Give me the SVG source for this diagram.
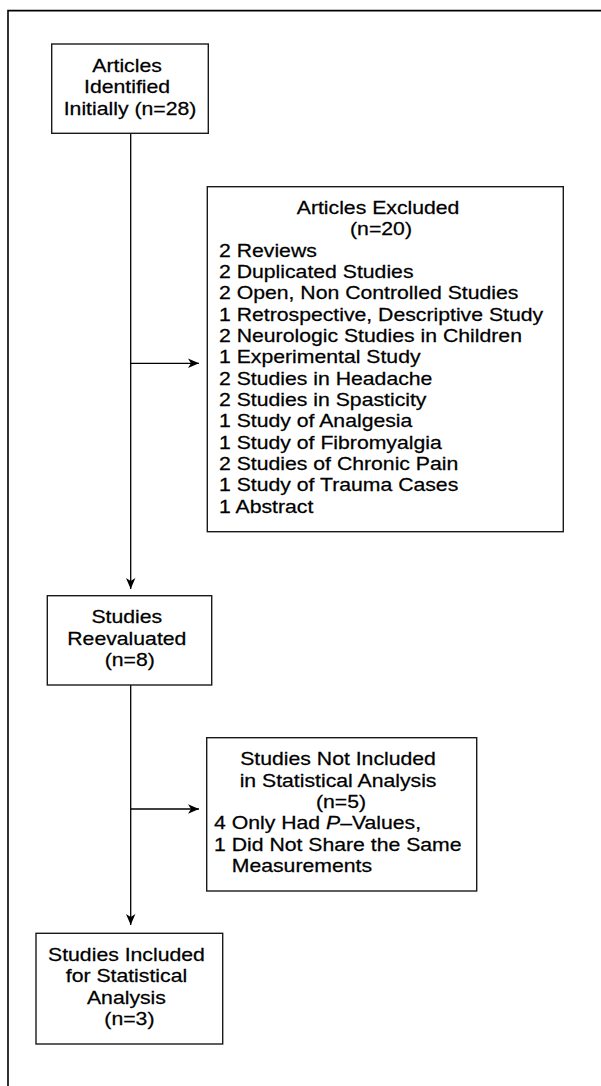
<svg xmlns="http://www.w3.org/2000/svg" width="601" height="1086" viewBox="0 0 601 1086">
  <defs>
    <marker id="arr" markerUnits="userSpaceOnUse" markerWidth="14" markerHeight="12" viewBox="-12 -6 14 12" refX="0" refY="0" orient="auto">
      <path d="M0,0 L-11,-4.7 L-8,0 L-11,4.7 Z" fill="#000"/>
    </marker>
    <style>
      .box { fill: #fff; stroke: #1a1a1a; stroke-width: 1.4; }
      .con { fill: none; stroke: #000; stroke-width: 1.3; }
      .frame { fill: none; stroke: #000; stroke-width: 1.6; }
      text { font-family: "Liberation Sans", Arial, Helvetica, sans-serif; font-size: 18.3px; fill: #000; stroke: #000; stroke-width: 0.25; }
      .c { text-anchor: middle; }
    </style>
  </defs>
  <rect x="0" y="0" width="601" height="1086" fill="#fff"/>
  <path class="frame" d="M8,1086 V10.6 H601"/>

  <g id="connectors">
    <line class="con" x1="130.7" y1="133.3" x2="130.7" y2="589" marker-end="url(#arr)"/>
    <line class="con" x1="130.7" y1="363.3" x2="199" y2="363.3" marker-end="url(#arr)"/>
    <line class="con" x1="130.7" y1="685" x2="130.7" y2="925" marker-end="url(#arr)"/>
    <line class="con" x1="130.7" y1="809" x2="199" y2="809" marker-end="url(#arr)"/>
  </g>

  <g id="node-identified">
    <rect class="box" x="51.7" y="44" width="156.6" height="89.3"/>
    <text class="c" transform="translate(130 0) scale(1.16 1)">
      <tspan x="0" y="72">Articles</tspan>
      <tspan x="0" y="93.5">Identified</tspan>
      <tspan x="0" y="115">Initially (n=28)</tspan>
    </text>
  </g>

  <g id="node-excluded">
    <rect class="box" x="207.3" y="186.7" width="356" height="345"/>
    <text class="c" transform="translate(381 0) scale(1.16 1)">
      <tspan x="0" y="214">Articles Excluded</tspan>
      <tspan x="0" y="235.3">(n=20)</tspan>
    </text>
    <text transform="translate(219 0) scale(1.16 1)">
      <tspan x="0" y="256.7">2 Reviews</tspan>
      <tspan x="0" y="278">2 Duplicated Studies</tspan>
      <tspan x="0" y="299.4">2 Open, Non Controlled Studies</tspan>
      <tspan x="0" y="320.7">1 Retrospective, Descriptive Study</tspan>
      <tspan x="0" y="342.1">2 Neurologic Studies in Children</tspan>
      <tspan x="0" y="363.4">1 Experimental Study</tspan>
      <tspan x="0" y="384.8">2 Studies in Headache</tspan>
      <tspan x="0" y="406.1">2 Studies in Spasticity</tspan>
      <tspan x="0" y="427.5">1 Study of Analgesia</tspan>
      <tspan x="0" y="448.8">1 Study of Fibromyalgia</tspan>
      <tspan x="0" y="470.2">2 Studies of Chronic Pain</tspan>
      <tspan x="0" y="491.5">1 Study of Trauma Cases</tspan>
      <tspan x="0" y="512.9">1 Abstract</tspan>
    </text>
  </g>

  <g id="node-reevaluated">
    <rect class="box" x="47.3" y="595.7" width="164.4" height="89.3"/>
    <text class="c" transform="translate(129.8 0) scale(1.16 1)">
      <tspan x="0" y="623.5">Studies</tspan>
      <tspan x="0" y="645">Reevaluated</tspan>
      <tspan x="0" y="666.5">(n=8)</tspan>
    </text>
  </g>

  <g id="node-not-included">
    <rect class="box" x="206.7" y="737.7" width="270" height="153.3"/>
    <text class="c" transform="translate(341 0) scale(1.16 1)">
      <tspan x="0" y="765.5">Studies Not Included</tspan>
      <tspan x="0" y="786.8">in Statistical Analysis</tspan>
      <tspan x="0" y="808.1">(n=5)</tspan>
    </text>
    <text transform="translate(214 0) scale(1.16 1)">
      <tspan x="0" y="829.4">4 Only Had <tspan font-style="italic">P</tspan>–Values,</tspan>
      <tspan x="0" y="850.7">1 Did Not Share the Same</tspan>
      <tspan x="15.3" y="872">Measurements</tspan>
    </text>
  </g>

  <g id="node-included">
    <rect class="box" x="36" y="933.3" width="186.7" height="110.7"/>
    <text class="c" transform="translate(129.4 0) scale(1.16 1)">
      <tspan x="0" y="961">Studies Included</tspan>
      <tspan x="0" y="982.4">for Statistical</tspan>
      <tspan x="0" y="1003.8">Analysis</tspan>
      <tspan x="0" y="1025.2">(n=3)</tspan>
    </text>
  </g>
</svg>
